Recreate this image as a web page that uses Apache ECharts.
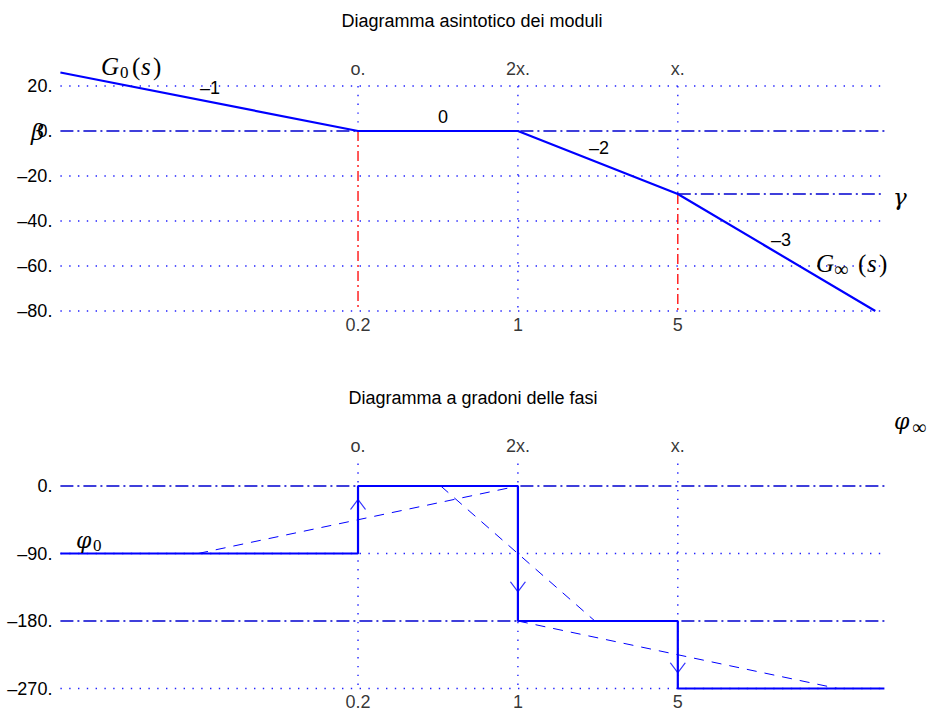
<!DOCTYPE html>
<html>
<head>
<meta charset="utf-8">
<script src="https://cdn.jsdelivr.net/npm/echarts@6/dist/echarts.min.js"></script>
<style>html,body{margin:0;padding:0;background:#fff}#c{width:934px;height:715px}</style>
</head>
<body>
<div id="c"></div>
<script>
// ---------- data ----------
const xMin = 0.01, xMax = 40;
const breakX = [0.2, 1, 5];
const breakLabelsTop = ['o.', '2x.', 'x.'];
const breakLabelsBottom = ['0.2', '1', '5'];

const magTicks = [20, 0, -20, -40, -60, -80];
const magX = [0.01, 0.2, 1, 5, 36.5];
const magY = [26, 0, 0, -28, -80];
const magDotted = [20, -20, -40, -60, -80];
const magDashDot = [0];
const gammaY = -28;
const redX = [0.2, 5];
const redTop = [0, -28];
const redBottom = -80;

const phaseTicks = [0, -90, -180, -270];
const phaseX = [0.01, 0.2, 0.2, 1, 1, 5, 5, 40];
const phaseY = [-90, -90, 0, 0, -180, -180, -270, -270];
const phaseDotted = [-90, -270];
const phaseDashDot = [0, -180];
const dashA_X = [0.04, 1],  dashA_Y = [-90, 0];
const dashB_X = [0.46, 2.17], dashB_Y = [0, -180];
const dashC_X = [1, 25],   dashC_Y = [-180, -270];
const arrowX = [0.2, 1, 5];
const arrowY = [-18, -141, -249];
const arrowDir = ['up', 'down', 'down'];

// ---------- styles ----------
const BLUE = '#0000ff';
const DOT = {color: '#2020ff', width: 1.4, type: [1.4, 7.4]};
const DASHDOT = {color: '#0000d0', width: 1.5, type: [13, 4, 2, 4]};
const RED = {color: '#ff0000', width: 1.3, type: [10, 4, 2, 4]};
const MAIN = {color: BLUE, width: 2.2};
const THIN = {color: BLUE, width: 1, type: [10, 8]};
const SANS = 'Liberation Sans, Arial, sans-serif';
const SERIF = 'Liberation Serif, Times New Roman, serif';
const GREEK = 'DejaVu Serif, Liberation Serif, serif';

function seg(gi, xs, ys, style, z) {
  return {type: 'line', xAxisIndex: gi, yAxisIndex: gi,
    data: xs.map((x, i) => [x, ys[i]]), symbol: 'none', showSymbol: false,
    lineStyle: style, silent: true, animation: false, clip: false, z: z || 2};
}

const series = [];
// top: horizontal grid lines
magDotted.forEach(v => series.push(seg(0, [xMin, xMax], [v, v], DOT, 1)));
magDashDot.forEach(v => series.push(seg(0, [xMin, xMax], [v, v], DASHDOT, 1)));
// top vertical dotted
breakX.forEach((x, i) => series.push(seg(0, [x, x], [20, i === 1 ? -80 : (i === 0 ? 0 : -28)], DOT, 1)));
// gamma line
series.push(seg(0, [5, xMax], [gammaY, gammaY], DASHDOT, 1));
// red verticals
redX.forEach((x, i) => series.push(seg(0, [x, x], [redTop[i], redBottom], RED, 4)));
// main magnitude
series.push(seg(0, magX, magY, MAIN, 5));

// bottom grid lines
phaseDotted.forEach(v => series.push(seg(1, [xMin, xMax], [v, v], DOT, 1)));
phaseDashDot.forEach(v => series.push(seg(1, [xMin, xMax], [v, v], DASHDOT, 1)));
breakX.forEach(x => series.push(seg(1, [x, x], [30, -270], DOT, 1)));
// dashed asymptotes
series.push(seg(1, dashA_X, dashA_Y, THIN, 3));
series.push(seg(1, dashB_X, dashB_Y, THIN, 3));
series.push(seg(1, dashC_X, dashC_Y, THIN, 3));
// step
series.push(seg(1, phaseX, phaseY, MAIN, 5));
// arrows
series.push({type: 'scatter', xAxisIndex: 1, yAxisIndex: 1, silent: true, animation: false, z: 6,
  data: arrowX.map((x, i) => ({
    value: [x, arrowY[i]],
    symbol: arrowDir[i] === 'up' ? 'path://M0,10L7.5,0L15,10' : 'path://M0,0L7.5,10L15,0',
    symbolOffset: arrowDir[i] === 'up' ? [0, 5] : [0, -5]
  })),
  symbolSize: [15, 10],
  itemStyle: {color: 'transparent', borderColor: BLUE, borderWidth: 1}
});

// tick labels at breaks
function tickLabels(gi, yTop, yBot) {
  const lab = {show: true, fontSize: 18, color: '#000', fontFamily: SANS, formatter: '{b}'};
  series.push({type: 'scatter', xAxisIndex: gi, yAxisIndex: gi, silent: true, animation: false,
    symbolSize: 1, itemStyle: {color: 'transparent'},
    data: breakX.map((x, i) => ({name: breakLabelsTop[i], value: [x, yTop]})),
    label: Object.assign({position: 'top', distance: 8}, lab)});
  series.push({type: 'scatter', xAxisIndex: gi, yAxisIndex: gi, silent: true, animation: false,
    symbolSize: 1, itemStyle: {color: 'transparent'},
    data: breakX.map((x, i) => ({name: breakLabelsBottom[i], value: [x, yBot]})),
    label: Object.assign({position: 'bottom', distance: 4}, lab)});
}
tickLabels(0, 20, -80);
tickLabels(1, 30, -270);

function fmt(v) { return (v < 0 ? '\u2013' : '') + Math.abs(v) + '.'; }

const yCommon = {
  axisLine: {show: false}, axisTick: {show: false}, splitLine: {show: false},
};

const chart = echarts.init(document.getElementById('c'), null, {renderer: 'svg'});

function T(text, x, y, size, opts) {
  return {type: 'text', x: x, y: y, silent: true, z: 10,
    style: Object.assign({text: text, fontSize: size, fill: '#000', fontFamily: SANS,
      align: 'left', verticalAlign: 'middle'}, opts || {})};
}
const IT = {fontFamily: SERIF, fontStyle: 'italic'};
const RM = {fontFamily: SERIF};
const GR = {fontFamily: GREEK, fontStyle: 'italic'};

chart.setOption({
  animation: false,
  grid: [
    {left: 60.4, width: 824, top: 86, height: 225},
    {left: 60.4, width: 824, top: 463.5, height: 225}
  ],
  xAxis: [
    {gridIndex: 0, type: 'log', logBase: 10, min: xMin, max: xMax, show: false},
    {gridIndex: 1, type: 'log', logBase: 10, min: xMin, max: xMax, show: false}
  ],
  yAxis: [
    Object.assign({gridIndex: 0, type: 'value', min: -80, max: 20, interval: 20,
      axisLabel: {fontSize: 18, color: '#000', fontFamily: SANS, margin: 8,
        formatter: v => magTicks.includes(v) ? fmt(v) : ''}}, yCommon),
    Object.assign({gridIndex: 1, type: 'value', min: -270, max: 30, interval: 90,
      axisLabel: {fontSize: 18, color: '#000', fontFamily: SANS, margin: 8, showMaxLabel: false,
        formatter: v => phaseTicks.includes(v) ? fmt(v) : ''}}, yCommon)
  ],
  series: series,
  graphic: [
    T('Diagramma asintotico dei moduli', 472, 21, 18, {align: 'center'}),
    T('Diagramma a gradoni delle fasi', 473, 398, 18, {align: 'center'}),
    // G0(s)
    T('G', 101, 66, 25, IT),
    T('0', 120, 72, 17, RM),
    T('(', 132, 66, 25, RM),
    T('s', 141, 66, 25, IT),
    T(')', 153, 66, 25, RM),
    // slope labels
    T('\u20131', 200, 88, 18),
    T('0', 438, 117, 18),
    T('\u20132', 589, 148, 18),
    T('\u20133', 771, 240, 18),
    // G_inf(s)
    T('G', 816, 263, 25, IT),
    T('\u221E', 834, 269, 20, RM),
    T('(', 858, 263, 25, RM),
    T('s', 867, 263, 25, IT),
    T(')', 879, 263, 25, RM),
    // gamma, beta
    T('\u03B3', 893, 197, 23, GR),
    T('\u03B2', 31, 132, 23, GR),
    // phi0, phi_inf
    T('\u03C6', 76, 540, 22, GR),
    T('0', 93, 545, 17, RM),
    T('\u03C6', 894, 421, 22, GR),
    T('\u221E', 912, 427, 20, RM)
  ]
});
</script>
</body>
</html>
